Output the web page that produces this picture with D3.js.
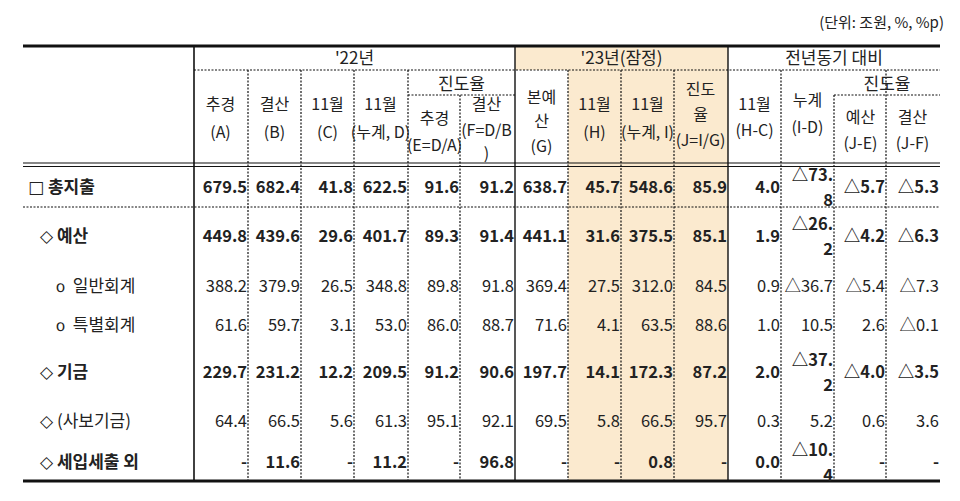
<!DOCTYPE html>
<html><head><meta charset="utf-8">
<script src="https://cdn.jsdelivr.net/npm/d3@7"></script>
<style>body{margin:0;background:#fff}text{font-family:"Noto Sans CJK KR","Noto Sans",sans-serif;fill:#222}</style>
</head><body><svg id="c" width="960" height="501"></svg>
<script>
const rowSymbols=["□","◇","ｏ","ｏ","◇","◇","◇"];
const rowLabels=["총지출","예산","일반회계","특별회계","기금","(사보기금)","세입세출 외"];
const rowBold=[true,true,false,false,true,false,true];
const rowIndent=[0,1,2,2,1,1,1];
const columns=["A","B","C","D","E","F","G","H","I","J","H-C","I-D","J-E","J-F"];
const values=[
["679.5","682.4","41.8","622.5","91.6","91.2","638.7","45.7","548.6","85.9","4.0","△73.8","△5.7","△5.3"],
["449.8","439.6","29.6","401.7","89.3","91.4","441.1","31.6","375.5","85.1","1.9","△26.2","△4.2","△6.3"],
["388.2","379.9","26.5","348.8","89.8","91.8","369.4","27.5","312.0","84.5","0.9","△36.7","△5.4","△7.3"],
["61.6","59.7","3.1","53.0","86.0","88.7","71.6","4.1","63.5","88.6","1.0","10.5","2.6","△0.1"],
["229.7","231.2","12.2","209.5","91.2","90.6","197.7","14.1","172.3","87.2","2.0","△37.2","△4.0","△3.5"],
["64.4","66.5","5.6","61.3","95.1","92.1","69.5","5.8","66.5","95.7","0.3","5.2","0.6","3.6"],
["-","11.6","-","11.2","-","96.8","-","-","0.8","-","0.0","△10.4","-","-"]];
const headers=[
{t:["추경","(A)"],y:[107,135]},{t:["결산","(B)"],y:[107,135]},{t:["11월","(C)"],y:[107,135]},
{t:["11월","(누계, D)"],y:[107,135]},{t:["추경","(E=D/A)"],y:[121,148]},{t:["결산","(F=D/B",")"],y:[107,133,156]},
{t:["본예","산","(G)"],y:[100,124,149]},{t:["11월","(H)"],y:[107,135]},{t:["11월","(누계, I)"],y:[107,135]},
{t:["진도","율","(J=I/G)"],y:[92,117,143]},{t:["11월","(H-C)"],y:[107,133]},{t:["누계","(I-D)"],y:[103,130]},
{t:["예산","(J-E)"],y:[120,146]},{t:["결산","(J-F)"],y:[120,146]}];
const unitText="(단위: 조원, %, %p)";

const svg=d3.select("#c");
const edges=[194,248,301,354,408,460,515,568,621,674,728,781,834,886,940];
const rowEdges=[166,207,265,307,343,400,442,481];
const x=d3.scaleOrdinal().domain(columns).range(edges.slice(0,14));
const y=d3.scaleOrdinal().domain(rowLabels).range(rowEdges.slice(0,7));
const L=23,R=940,T=46,B=481;
svg.append("rect").attr("x",515).attr("y",T).attr("width",213).attr("height",24).attr("fill","#fbeacf");
svg.append("rect").attr("x",568).attr("y",70).attr("width",160).attr("height",B-70).attr("fill","#fbeacf");
const ln=(x1,y1,x2,y2,w,dash)=>svg.append("line").attr("x1",x1).attr("y1",y1).attr("x2",x2).attr("y2",y2).attr("stroke","#111").attr("stroke-width",w).attr("stroke-dasharray",dash||null);
edges.forEach((e,i)=>{ if(i==0||i==6||i==10) ln(e,T,e,B,i==0?1.6:1.4); else if(i<14){
  let top=70; if(i==5||i==12) top=95; ln(e,top,e,B,1.2,"2,1.5");}});
ln(L,T,R,T,3);
ln(194,70,R,70,1.2,"2,1.5");
ln(408,95,515,95,1.2,"2,1.5");ln(834,95,R,95,1.2,"2,1.5");
ln(L,163,R,163,1.2);ln(L,166.5,R,166.5,1.2);
ln(L,207,R,207,1.2,"2,1.5");
ln(L,B,R,B,3);
const ht=(t,cx,cy,fs)=>svg.append("text").attr("x",cx).attr("y",cy).attr("text-anchor","middle").attr("font-size",fs||16.5).text(t);
ht("'22년",(194+515)/2,64,17);ht("'23년(잠정)",(515+728)/2,64,17);ht("전년동기 대비",(728+940)/2,64,17);
ht("진도율",(408+515)/2,90,17);ht("진도율",(834+940)/2,90,17);
headers.forEach((h,i)=>{const c=x(columns[i])+26.5;h.t.forEach((t,j)=>ht(t,c,h.y[j]+3,16));});
svg.append("text").attr("x",944).attr("y",28).attr("text-anchor","end").attr("font-size",15).text(unitText);
rowLabels.forEach((r,i)=>{
  const y0=y(r),y1=rowEdges[i+1],cy=(y0+y1)/2+6,bold=rowBold[i];
  const lt=svg.append("text").attr("x",28+[0,12,24][rowIndent[i]]).attr("y",cy).attr("font-size",17)
    .attr("font-weight",bold?"bold":"normal");
  lt.append("tspan").attr("font-family","DejaVu Sans").attr("font-weight","normal").text(rowSymbols[i]);
  lt.append("tspan").text(" "+(i>=2&&i<=3?" ":"")+r);
  values[i].forEach((v,j)=>{
    const xr=x(columns[j])+(edges[j+1]-edges[j])-1;
    const wrap=bold&&v.startsWith("△")&&v.length>=5;
    const t=svg.append("text").attr("x",xr).attr("text-anchor","end").attr("font-size",16.5)
      .attr("font-weight",bold?"bold":"normal").attr("y",wrap?cy-12:cy).text(wrap?v.slice(0,4):v);
    if(wrap) svg.append("text").attr("x",xr).attr("text-anchor","end").attr("font-size",16.5)
        .attr("font-weight","bold").attr("y",cy+13).text(v.slice(4));
  });
});
</script></body></html>
